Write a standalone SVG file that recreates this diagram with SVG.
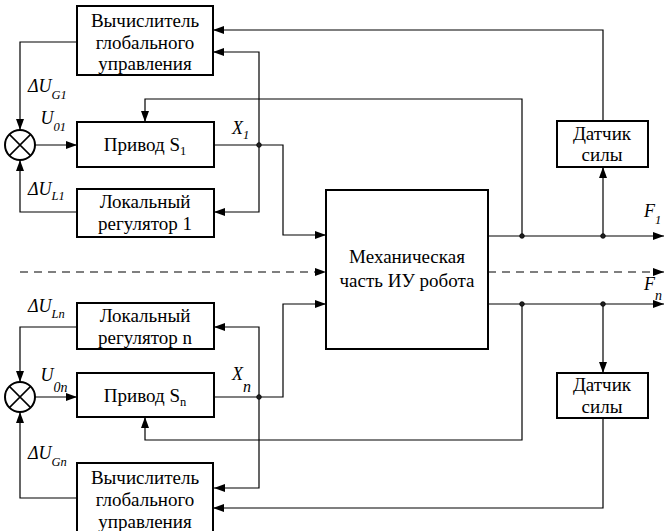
<svg xmlns="http://www.w3.org/2000/svg" width="664" height="531" viewBox="0 0 664 531">
  <defs>
    <marker id="arr" markerUnits="userSpaceOnUse" markerWidth="11" markerHeight="8" refX="11" refY="4" orient="auto">
      <path d="M0,0 L11,4 L0,8 z" fill="#000"/>
    </marker>
    <style>
      .box { fill: #fff; stroke: #000; stroke-width: 2; }
      .wire { fill: none; stroke: #000; stroke-width: 1.2; }
      .dash { stroke-dasharray: 8 6; }
      text { font-family: 'Liberation Serif', 'Times New Roman', serif; fill: #000; }
      .txt { font-size: 19px; text-anchor: middle; }
      .lbl { font-size: 18px; font-style: italic; }
      .sub { font-size: 12.5px; }
      .subm { font-size: 14px; }
      .subl { font-size: 16px; }
      .dot { fill: #222; stroke: #000; stroke-width: 0.8; }
    </style>
  </defs>
  <rect width="664" height="531" fill="#fff"/>

  <g id="connectors">
    <!-- upper channel -->
    <path class="wire" d="M77,42 H20 V130" marker-end="url(#arr)"/>
    <path class="wire" d="M77,212 H20 V160" marker-end="url(#arr)"/>
    <path class="wire" d="M35,145 H77" marker-end="url(#arr)"/>
    <path class="wire" d="M214,145 H283 V235 H326" marker-end="url(#arr)"/>
    <path class="wire" d="M259,145 V52 H213" marker-end="url(#arr)"/>
    <path class="wire" d="M259,145 V212 H214" marker-end="url(#arr)"/>
    <path class="wire" d="M603,121 V30 H213" marker-end="url(#arr)"/>
    <path class="wire" d="M488,236 H664" marker-end="url(#arr)"/>
    <path class="wire" d="M522,236 V99 H145 V122" marker-end="url(#arr)"/>
    <path class="wire" d="M603,236 V167" marker-end="url(#arr)"/>
    <!-- intermediate channels -->
    <path class="wire dash" d="M20,272 H326" marker-end="url(#arr)"/>
    <path class="wire dash" d="M488,272 H664" marker-end="url(#arr)"/>
    <!-- lower channel -->
    <path class="wire" d="M77,327 H20 V382" marker-end="url(#arr)"/>
    <path class="wire" d="M77,498 H20 V412" marker-end="url(#arr)"/>
    <path class="wire" d="M35,397 H77" marker-end="url(#arr)"/>
    <path class="wire" d="M214,397 H283 V304 H326" marker-end="url(#arr)"/>
    <path class="wire" d="M259,397 V327 H214" marker-end="url(#arr)"/>
    <path class="wire" d="M259,397 V488 H214" marker-end="url(#arr)"/>
    <path class="wire" d="M488,304 H664" marker-end="url(#arr)"/>
    <path class="wire" d="M522,304 V440 H145 V417" marker-end="url(#arr)"/>
    <path class="wire" d="M603,304 V373" marker-end="url(#arr)"/>
    <path class="wire" d="M603,418 V508 H213" marker-end="url(#arr)"/>
    <!-- junctions -->
    <circle class="dot" cx="259" cy="145" r="2.3"/>
    <circle class="dot" cx="522" cy="236" r="2.3"/>
    <circle class="dot" cx="603" cy="236" r="2.3"/>
    <circle class="dot" cx="259" cy="397" r="2.3"/>
    <circle class="dot" cx="522" cy="304" r="2.3"/>
    <circle class="dot" cx="603" cy="304" r="2.3"/>
  </g>

  <g id="sum1">
    <circle cx="20" cy="145" r="15" fill="#fff" stroke="#000" stroke-width="2"/>
    <path d="M9.4,134.4 L30.6,155.6 M30.6,134.4 L9.4,155.6" stroke="#000" stroke-width="1.5"/>
  </g>
  <g id="sumN">
    <circle cx="20" cy="397" r="15" fill="#fff" stroke="#000" stroke-width="2"/>
    <path d="M9.4,386.4 L30.6,407.6 M30.6,386.4 L9.4,407.6" stroke="#000" stroke-width="1.5"/>
  </g>

  <g id="global1">
    <rect class="box" x="77" y="6" width="136" height="69"/>
    <text class="txt" x="145" y="27">Вычислитель</text>
    <text class="txt" x="145" y="49">глобального</text>
    <text class="txt" x="145" y="70">управления</text>
  </g>
  <g id="drive1">
    <rect class="box" x="77" y="122" width="137" height="45"/>
    <text class="txt" x="145" y="151">Привод S<tspan class="sub" dy="4">1</tspan></text>
  </g>
  <g id="local1">
    <rect class="box" x="77" y="189" width="137" height="48"/>
    <text class="txt" x="145" y="208">Локальный</text>
    <text class="txt" x="145" y="230">регулятор 1</text>
  </g>
  <g id="sensor1">
    <rect class="box" x="557" y="121" width="91" height="46"/>
    <text class="txt" x="602" y="140">Датчик</text>
    <text class="txt" x="602" y="161">силы</text>
  </g>
  <g id="mech">
    <rect class="box" x="326" y="190" width="162" height="159"/>
    <text class="txt" x="407" y="263">Механическая</text>
    <text class="txt" x="407" y="287">часть ИУ робота</text>
  </g>
  <g id="localN">
    <rect class="box" x="77" y="303" width="137" height="46"/>
    <text class="txt" x="145" y="322">Локальный</text>
    <text class="txt" x="145" y="344">регулятор n</text>
  </g>
  <g id="driveN">
    <rect class="box" x="77" y="373" width="137" height="44"/>
    <text class="txt" x="145" y="402">Привод S<tspan class="sub" dy="4">n</tspan></text>
  </g>
  <g id="globalN">
    <rect class="box" x="77" y="463" width="136" height="75"/>
    <text class="txt" x="145" y="484">Вычислитель</text>
    <text class="txt" x="145" y="506">глобального</text>
    <text class="txt" x="145" y="528">управления</text>
  </g>
  <g id="sensorN">
    <rect class="box" x="557" y="373" width="91" height="45"/>
    <text class="txt" x="602" y="391">Датчик</text>
    <text class="txt" x="602" y="413">силы</text>
  </g>

  <g id="labels">
    <text class="lbl" x="28" y="92">ΔU<tspan class="sub" dy="7">G1</tspan></text>
    <text class="lbl" x="40.5" y="124">U<tspan class="sub" dy="7">01</tspan></text>
    <text class="lbl" x="28" y="195">ΔU<tspan class="sub" dy="5">L1</tspan></text>
    <text class="lbl" x="232" y="134">X<tspan class="sub" dy="4.5">1</tspan></text>
    <text class="lbl" x="28" y="312">ΔU<tspan class="sub" dy="6">Ln</tspan></text>
    <text class="lbl" x="40.5" y="381">U<tspan class="subm" dy="11">0n</tspan></text>
    <text class="lbl" x="28" y="459">ΔU<tspan class="sub" dy="7">Gn</tspan></text>
    <text class="lbl" x="232" y="380">X<tspan class="subl" dy="12">n</tspan></text>
    <text class="lbl" x="644" y="217">F<tspan class="sub" dy="7">1</tspan></text>
    <text class="lbl" x="644" y="290">F<tspan class="subm" dy="10">n</tspan></text>
  </g>
</svg>
